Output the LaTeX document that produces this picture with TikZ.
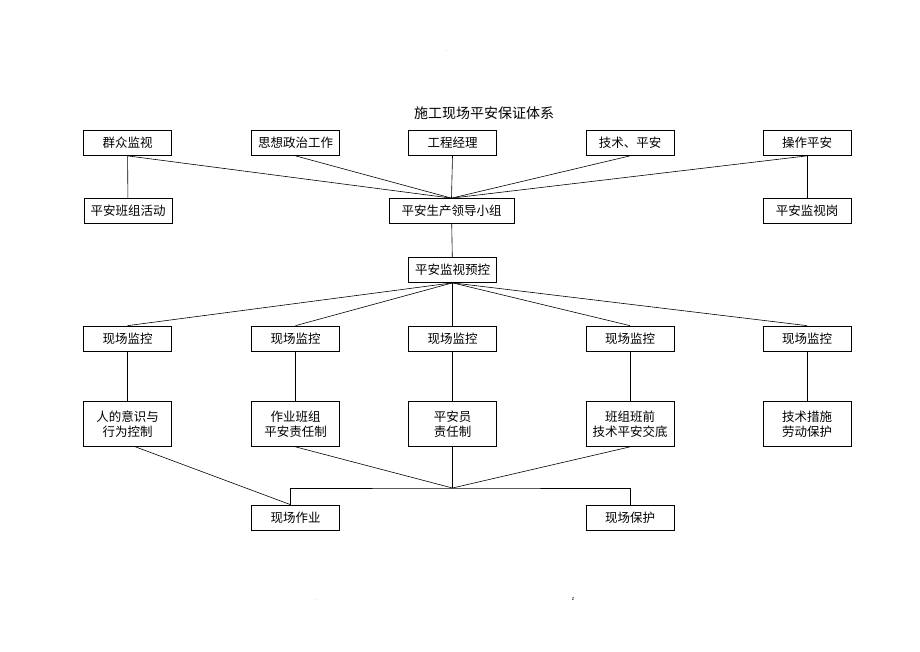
\documentclass[tikz,border=0pt]{standalone}
\usepackage{fontspec}
\setmainfont{Noto Sans CJK SC}
\begin{document}
\begin{tikzpicture}[x=1pt,y=-1pt]
            \tikzstyle{box}=[draw,line width=0.7pt,minimum width=88pt,minimum height=25pt,inner sep=1pt,font=\fontsize{12.5}{15}\selectfont]
            \tikzstyle{tallbox}=[box,minimum height=45pt,align=center]
            \tikzstyle{link}=[line width=0.6pt]
                \useasboundingbox (0,0) rectangle (920,651);
                \node (title) at (484,113) {\fontsize{14}{16}\selectfont 施工现场平安保证体系};
                % top row
                \node [box] (qunzhong) at (127.5,143) {群众监视};
                \node [box] (sixiang) at (295.5,143) {思想政治工作};
                \node [box] (jingli) at (452.5,143) {工程经理};
                \node [box] (jishu) at (630,143) {技术、平安};
                \node [box] (caozuo) at (807,143) {操作平安};
                % second row
                \node [box] (banzu) at (128,211) {平安班组活动};
                \node [box,minimum width=125pt] (lingdao) at (451.5,211) {平安生产领导小组};
                \node [box] (gang) at (807,211) {平安监视岗};
                \node [box] (yukong) at (452.5,270) {平安监视预控};
                % site monitors
                \node [box] (jk1) at (127.5,338.5) {现场监控};
                \node [box] (jk2) at (295.5,338.5) {现场监控};
                \node [box] (jk3) at (452.5,338.5) {现场监控};
                \node [box] (jk4) at (630,338.5) {现场监控};
                \node [box] (jk5) at (807,338.5) {现场监控};
                \node [tallbox] (yishi) at (127.5,424) {人的意识与\\行为控制};
                \node [tallbox] (zeren) at (295.5,424) {作业班组\\平安责任制};
                \node [tallbox] (anquanyuan) at (452.5,424) {平安员\\责任制};
                \node [tallbox] (jiaodi) at (630,424) {班组班前\\技术平安交底};
                \node [tallbox] (baohu1) at (807,424) {技术措施\\劳动保护};
                \node [box] (zuoye) at (295.5,517.5) {现场作业};
                \node [box] (baohu) at (630,517.5) {现场保护};
                \coordinate (hub) at (452.5,488);
                % page marks
                \node [font=\tiny,text=gray] (dot1) at (447,51) {.};
                \node [font=\tiny,text=gray] (dot2) at (317,600) {.};
                \node [font=\tiny] (zmark) at (573,599) {z};
                % connectors
                \foreach \n in {qunzhong,sixiang,jingli,jishu,caozuo}
                    \draw [link] (\n.south) -- (lingdao.north);
                \draw [link] (qunzhong) -- (banzu);
                \draw [link] (caozuo) -- (gang);
                \draw [link] (lingdao) -- (yukong);
                \foreach \n in {jk1,jk2,jk3,jk4,jk5}
                    \draw [link] (yukong.south) -- (\n.north);
                \draw [link] (jk1) -- (yishi);
                \draw [link] (jk2) -- (zeren);
                \draw [link] (jk3) -- (anquanyuan);
                \draw [link] (jk4) -- (jiaodi);
                \draw [link] (jk5) -- (baohu1);
                \draw [link] ([xshift=8pt]yishi.south) -- ([xshift=-5pt]zuoye.north);
                \draw [link] (zeren.south) -- (hub);
                \draw [link] (anquanyuan.south) -- (hub);
                \draw [link] (jiaodi.south) -- (hub);
                \draw [link] ([xshift=-5pt]zuoye.north) |- (hub) -| (baohu.north);
            \end{tikzpicture}
\end{document}
